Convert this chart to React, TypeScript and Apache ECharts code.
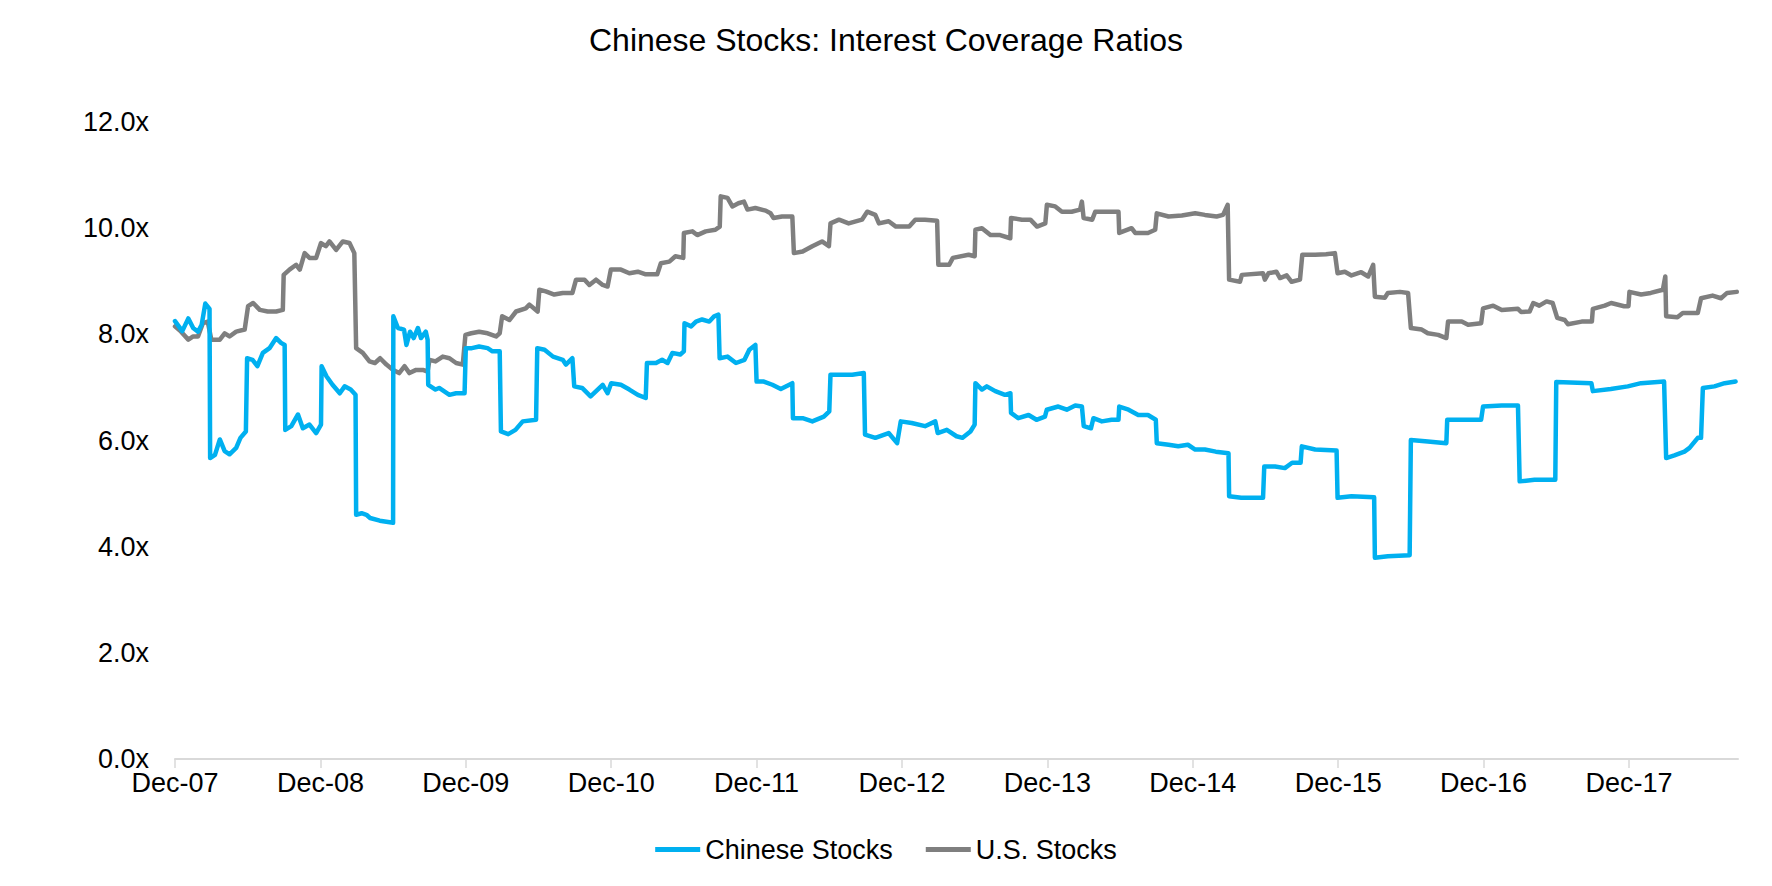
import React, { useEffect, useRef } from "react";
import * as echarts from "echarts";

// x positions are months elapsed since Dec-07 (0 = Dec-07)
const chinaMonths = [
  0.0, 0.6, 1.1, 1.5, 1.9, 2.2, 2.5, 2.85, 2.9, 3.3, 3.7, 4.1, 4.5, 5.05, 5.4, 5.85, 5.95, 6.4, 6.8, 7.25,
  7.8, 8.35, 8.75, 9.05, 9.1, 9.6, 10.15, 10.55, 11.1, 11.65, 12.05, 12.1, 12.5, 13.0, 13.6, 14.0, 14.5, 14.9, 14.95, 15.4,
  15.8, 16.1, 16.9, 18.0, 18.02, 18.4, 18.9, 19.1, 19.4, 19.7, 20.05, 20.3, 20.7, 20.85, 20.9, 21.5, 21.8, 22.65, 23.2, 23.9,
  24.0, 24.5, 25.1, 25.8, 26.2, 26.8, 26.9, 27.5, 28.1, 28.7, 29.8, 29.9, 30.5, 31.2, 32.0, 32.26, 32.8, 32.95, 33.6, 34.3,
  35.3, 35.7, 36.0, 36.8, 37.5, 38.2, 38.85, 38.95, 39.7, 40.2, 40.65, 41.05, 41.7, 42.0, 42.05, 42.6, 43.0, 43.5, 44.1, 44.5,
  44.85, 44.95, 45.6, 46.3, 47.0, 47.4, 47.9, 48.0, 48.6, 49.3, 50.0, 50.95, 51.0, 51.8, 52.6, 53.55, 54.0, 54.1, 55.0, 55.9,
  56.85, 56.95, 57.8, 58.9, 59.6, 59.9, 60.8, 61.9, 62.75, 62.95, 63.7, 64.5, 65.0, 65.65, 66.0, 66.06, 66.6, 67.0, 67.7, 68.5,
  68.95, 69.0, 69.6, 70.45, 71.1, 71.8, 71.95, 72.9, 73.6, 74.3, 74.85, 75.0, 75.6, 75.8, 76.5, 77.3, 77.87, 77.93, 78.7, 79.5,
  80.3, 80.95, 81.03, 82.0, 82.8, 83.6, 84.2, 85.0, 85.9, 86.95, 87.0, 88.0, 89.8, 89.9, 90.8, 91.6, 92.2, 92.9, 93.0, 94.1,
  95.87, 95.95, 97.1, 98.97, 99.03, 100.1, 101.9, 102.0, 103.4, 104.93, 105.0, 106.2, 107.8, 107.96, 109.5, 110.84, 110.98, 112.2, 113.92, 114.0,
  116.9, 117.02, 118.5, 119.9, 121.0, 122.9, 123.07, 123.75, 124.58, 125.0, 125.68, 125.95, 126.1, 127.05, 127.9, 128.8,
];
const chinaValues = [
  8.25, 8.06, 8.30, 8.12, 8.05, 8.18, 8.58, 8.48, 5.67, 5.73, 6.02, 5.80, 5.74, 5.86, 6.05, 6.17, 7.55, 7.52, 7.40, 7.65,
  7.74, 7.93, 7.84, 7.80, 6.20, 6.27, 6.49, 6.23, 6.30, 6.14, 6.30, 7.40, 7.21, 7.05, 6.89, 7.02, 6.96, 6.86, 4.60, 4.63,
  4.60, 4.54, 4.49, 4.45, 8.34, 8.12, 8.09, 7.80, 8.05, 7.93, 8.12, 7.93, 8.05, 7.90, 7.05, 6.96, 6.99, 6.86, 6.89, 6.89,
  7.74, 7.74, 7.77, 7.74, 7.68, 7.68, 6.17, 6.12, 6.20, 6.36, 6.39, 7.74, 7.71, 7.58, 7.52, 7.43, 7.55, 7.02, 6.99, 6.83,
  7.05, 6.89, 7.08, 7.05, 6.96, 6.86, 6.80, 7.46, 7.46, 7.52, 7.46, 7.65, 7.62, 7.68, 8.21, 8.15, 8.24, 8.28, 8.24, 8.34,
  8.37, 7.55, 7.58, 7.46, 7.52, 7.71, 7.80, 7.11, 7.11, 7.05, 6.97, 7.08, 6.42, 6.42, 6.36, 6.45, 6.55, 7.24, 7.24, 7.24,
  7.27, 6.11, 6.05, 6.14, 5.95, 6.36, 6.33, 6.27, 6.36, 6.14, 6.20, 6.08, 6.05, 6.17, 6.30, 7.08, 6.96, 7.02, 6.93, 6.86,
  6.89, 6.52, 6.42, 6.48, 6.39, 6.45, 6.58, 6.64, 6.58, 6.66, 6.64, 6.27, 6.23, 6.42, 6.36, 6.39, 6.39, 6.64, 6.58, 6.48,
  6.48, 6.39, 5.95, 5.92, 5.89, 5.92, 5.83, 5.83, 5.79, 5.76, 4.95, 4.92, 4.92, 5.51, 5.51, 5.48, 5.58, 5.58, 5.89, 5.83,
  5.81, 4.92, 4.95, 4.93, 3.79, 3.82, 3.84, 6.01, 5.98, 5.95, 6.39, 6.39, 6.39, 6.64, 6.66, 6.66, 5.23, 5.26, 5.26, 7.10,
  7.08, 6.93, 6.97, 7.02, 7.08, 7.11, 5.67, 5.72, 5.79, 5.86, 6.05, 6.05, 6.99, 7.02, 7.08, 7.11,
];

const usMonths = [
  0.0, 0.5, 1.1, 1.5, 1.9, 2.3, 2.7, 3.0, 3.7, 4.1, 4.5, 5.05, 5.75, 6.03, 6.45, 7.0, 7.65, 8.35, 8.9, 8.97,
  9.45, 10.0, 10.3, 10.7, 11.1, 11.65, 12.05, 12.45, 12.75, 13.3, 13.85, 14.4, 14.8, 14.95, 15.5, 16.05, 16.5, 16.93, 17.45, 18.0,
  18.5, 18.95, 19.35, 19.9, 20.45, 20.85, 21.0, 21.5, 22.1, 22.65, 23.2, 23.75, 23.97, 24.45, 25.1, 25.8, 26.5, 26.8, 27.0, 27.6,
  28.15, 28.95, 29.25, 29.93, 30.07, 30.6, 31.3, 32.0, 32.8, 33.1, 33.8, 34.2, 34.75, 35.3, 35.7, 35.97, 36.8, 37.5, 38.2, 38.85,
  39.8, 40.1, 40.8, 41.3, 41.95, 42.0, 42.7, 43.1, 43.8, 44.6, 44.96, 45.04, 45.6, 46.0, 46.5, 46.96, 47.25, 47.9, 48.75, 49.15,
  49.4, 50.1, 50.95, 51.08, 51.8, 52.6, 53.4, 53.97, 54.1, 54.8, 55.6, 56.7, 57.13, 57.8, 58.1, 58.9, 59.5, 60.6, 61.1, 61.9,
  62.9, 63.0, 63.9, 64.2, 65.5, 66.0, 66.06, 66.6, 67.3, 68.1, 68.94, 69.0, 69.9, 70.6, 71.15, 71.83, 71.96, 72.65, 73.2, 74.0,
  74.7, 74.85, 74.99, 75.7, 75.95, 76.8, 77.87, 77.93, 78.95, 79.25, 80.3, 80.9, 81.03, 82.0, 83.1, 84.2, 85.0, 85.97, 86.5, 86.88,
  87.0, 87.9, 88.05, 89.8, 89.95, 90.25, 90.9, 91.2, 91.75, 92.16, 92.85, 93.04, 94.1, 95.0, 95.73, 95.95, 96.55, 97.1, 97.9, 98.48,
  98.89, 99.03, 99.85, 100.1, 101.1, 101.77, 102.0, 102.9, 103.4, 104.25, 104.93, 105.07, 106.2, 106.72, 107.8, 107.96, 108.8, 109.5, 110.84, 111.1,
  111.8, 112.1, 112.6, 113.2, 113.7, 114.08, 114.7, 114.96, 116.1, 116.94, 117.02, 118.0, 118.53, 119.6, 119.96, 120.04, 121.0, 121.8, 122.8, 123.0,
  123.07, 124.0, 124.44, 125.68, 125.95, 126.9, 127.6, 128.1, 128.9,
];
const usValues = [
  8.15, 8.05, 7.90, 7.96, 7.96, 8.21, 8.24, 7.90, 7.90, 8.02, 7.96, 8.05, 8.09, 8.53, 8.59, 8.46, 8.43, 8.43, 8.46, 9.12,
  9.22, 9.31, 9.22, 9.53, 9.44, 9.44, 9.72, 9.66, 9.75, 9.59, 9.75, 9.72, 9.53, 7.74, 7.65, 7.49, 7.46, 7.55, 7.43, 7.33,
  7.27, 7.40, 7.27, 7.33, 7.33, 7.30, 7.52, 7.49, 7.58, 7.55, 7.46, 7.43, 7.99, 8.02, 8.05, 8.02, 7.96, 8.02, 8.34, 8.27,
  8.43, 8.49, 8.56, 8.43, 8.84, 8.81, 8.75, 8.78, 8.78, 9.03, 9.03, 8.93, 9.03, 8.93, 8.90, 9.22, 9.22, 9.15, 9.18, 9.13,
  9.13, 9.34, 9.37, 9.47, 9.44, 9.91, 9.94, 9.87, 9.94, 9.97, 10.03, 10.60, 10.57, 10.41, 10.47, 10.50, 10.35, 10.38, 10.33, 10.28,
  10.19, 10.22, 10.22, 9.53, 9.56, 9.66, 9.75, 9.66, 10.09, 10.16, 10.09, 10.16, 10.31, 10.25, 10.09, 10.13, 10.03, 10.03, 10.16, 10.16,
  10.14, 9.31, 9.31, 9.44, 9.50, 9.47, 9.97, 10.00, 9.87, 9.87, 9.81, 10.19, 10.16, 10.16, 10.03, 10.09, 10.44, 10.41, 10.31, 10.31,
  10.35, 10.50, 10.19, 10.16, 10.31, 10.31, 10.31, 9.91, 10.00, 9.91, 9.91, 9.97, 10.28, 10.22, 10.24, 10.28, 10.25, 10.22, 10.25, 10.44,
  9.03, 8.99, 9.12, 9.15, 9.03, 9.15, 9.18, 9.06, 9.11, 8.99, 9.03, 9.50, 9.50, 9.51, 9.53, 9.15, 9.18, 9.11, 9.17, 9.09,
  9.31, 8.71, 8.69, 8.78, 8.80, 8.78, 8.12, 8.09, 8.02, 7.99, 7.93, 8.24, 8.24, 8.18, 8.21, 8.49, 8.54, 8.46, 8.48, 8.42,
  8.43, 8.59, 8.54, 8.62, 8.59, 8.31, 8.27, 8.19, 8.24, 8.24, 8.48, 8.54, 8.59, 8.53, 8.53, 8.80, 8.75, 8.78, 8.84, 9.09,
  8.34, 8.32, 8.40, 8.40, 8.68, 8.73, 8.68, 8.78, 8.80,
];

const tickMonths = [0, 12, 24, 36, 48, 60, 72, 84, 96, 108, 120];
const tickLabels = ["Dec-07", "Dec-08", "Dec-09", "Dec-10", "Dec-11", "Dec-12", "Dec-13", "Dec-14", "Dec-15", "Dec-16", "Dec-17"];

const FONT = "'Liberation Sans', Arial, Helvetica, sans-serif";

export default function App() {
  const ref = useRef<HTMLDivElement>(null);

  useEffect(() => {
    if (!ref.current) return;
    const chart = echarts.init(ref.current, undefined, { renderer: "svg" });
    const zip = (xs: number[], ys: number[]) => xs.map((x, i) => [x, ys[i]]);
    chart.setOption({
      animation: false,
      backgroundColor: "#ffffff",
      title: {
        text: "Chinese Stocks: Interest Coverage Ratios",
        left: "center",
        top: 19,
        textStyle: { fontFamily: FONT, fontSize: 32, fontWeight: "normal", color: "#000000" },
      },
      legend: {
        bottom: 18,
        left: "center",
        icon: "rect",
        itemWidth: 45,
        itemHeight: 5,
        itemGap: 33,
        textStyle: { fontFamily: FONT, fontSize: 27, color: "#000000" },
        data: ["Chinese Stocks", "U.S. Stocks"],
      },
      grid: { left: 175, right: 34, top: 122, bottom: 127, containLabel: false },
      xAxis: {
        type: "value",
        min: 0,
        max: 129,
        interval: 12,
        splitLine: { show: false },
        axisLine: { show: true, lineStyle: { color: "#d9d9d9", width: 2 } },
        axisTick: {
          show: true,
          length: 9,
          customValues: tickMonths,
          lineStyle: { color: "#d9d9d9", width: 1.5 },
        },
        axisLabel: {
          customValues: tickMonths,
          margin: 10,
          fontFamily: FONT,
          fontSize: 27,
          color: "#000000",
          formatter: (v: number) => {
            const i = tickMonths.indexOf(Math.round(v));
            return i >= 0 ? tickLabels[i] : "";
          },
        },
      },
      yAxis: {
        type: "value",
        min: 0,
        max: 12,
        interval: 2,
        splitLine: { show: false },
        axisLine: { show: false },
        axisTick: { show: false },
        axisLabel: {
          margin: 26,
          fontFamily: FONT,
          fontSize: 27,
          color: "#000000",
          formatter: (v: number) => v.toFixed(1) + "x",
        },
      },
      series: [
        {
          name: "Chinese Stocks",
          type: "line",
          data: zip(chinaMonths, chinaValues),
          showSymbol: false,
          symbol: "none",
          color: "#00b0f0",
          lineStyle: { color: "#00b0f0", width: 4.5, cap: "round", join: "round" },
          z: 3,
        },
        {
          name: "U.S. Stocks",
          type: "line",
          data: zip(usMonths, usValues),
          showSymbol: false,
          symbol: "none",
          color: "#7f7f7f",
          lineStyle: { color: "#7f7f7f", width: 4.5, cap: "round", join: "round" },
          z: 2,
        },
      ],
    });
    return () => chart.dispose();
  }, []);

  return (
    <div
      ref={ref}
      style={{ position: "absolute", left: 0, top: 0, width: 1772, height: 886, background: "#fff" }}
    />
  );
}
